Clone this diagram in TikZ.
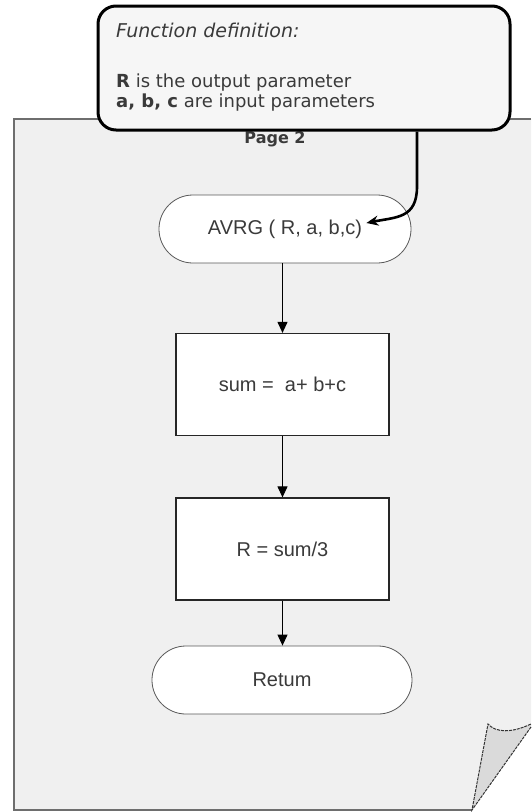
\documentclass[tikz,border=0pt]{standalone}
\usepackage{fontspec}
\setmainfont{Liberation Sans}
\newfontfamily\notefont{DejaVu Sans}
\newfontfamily\noteitfont{DejaVu Sans Oblique}
\usetikzlibrary{arrows.meta}
\definecolor{pagefill}{HTML}{F0F0F0}
\definecolor{pageedge}{HTML}{6E6E6E}
\definecolor{notefill}{HTML}{F6F6F6}
\definecolor{flapfill}{HTML}{DADADA}
\definecolor{inktext}{HTML}{3A3A3A}
\tikzset{
  terminal/.style={draw=black!65, line width=0.8pt, fill=white, rounded corners=33.9pt,
    inner sep=0pt, minimum height=68pt, font=\fontsize{20}{23}\selectfont, text=inktext},
  procbox/.style={draw=black!85, line width=1.2pt, fill=white, inner sep=0pt,
    minimum width=213pt, minimum height=102pt, font=\fontsize{20}{23}\selectfont, text=inktext},
  flow/.style={line width=1pt, -{Triangle[length=11pt,width=10pt]}},
  notebox/.style={draw=black, line width=3pt, fill=notefill, rounded corners=18pt,
    inner sep=0pt, minimum width=412pt, minimum height=124pt},
  notetext/.style={anchor=base west, inner sep=0pt, text=inktext,
    font=\notefont\fontsize{18}{21}\selectfont},
  callarrow/.style={line width=2.6pt, -{Stealth[length=12pt,width=10pt]}}
}
\begin{document}
\begin{tikzpicture}[x=1pt,y=-1pt]
\useasboundingbox (0,0) rectangle (531,812);

% sheet of paper with a curled bottom-right corner
\fill[pagefill] (14,119) -- (531,119) -- (531,727) -- (472,810) -- (14,810) -- cycle;
\draw[pageedge, line width=2pt] (531,119) -- (14,119) -- (14,810) -- (472,810);
\fill[flapfill] (472,810) -- (488,724) .. controls (496,733) and (512,733) .. (531,724)
  -- (531,727) -- cycle;
\draw[black!80, line width=1pt, dash pattern=on 3pt off 1pt]
  (531,727) -- (472,810) -- (488,724) .. controls (496,733) and (512,733) .. (531,724);

\node[anchor=base, inner sep=0pt, text=inktext, font=\notefont\bfseries\fontsize{16}{19}\selectfont]
  (pagelabel) at (275,143) {Page 2};

% flowchart
\node[terminal, minimum width=252pt] (avrg) at (285,229) {AVRG ( R, a, b,c)};
\node[procbox] (sum) at (282.5,384.5) {sum =\ \ a+ b+c};
\node[procbox] (avg) at (282.5,549) {R = sum/3};
\node[terminal, minimum width=260pt] (ret) at (282,680) {Retum};

\draw[flow] (avrg.south -| sum.north) -- (sum.north);
\draw[flow] (sum) -- (avg);
\draw[flow] (avg.south) -- (avg.south |- ret.north);

% definition note
\node[notebox] (def) at (304,68) {};
\node[notetext, font=\noteitfont\fontsize{19}{22}\selectfont] (defhead) at (116,37) {Function definition:};
\node[notetext] (defout) at (116,87) {\textbf{R} is the output parameter};
\node[notetext] (defin) at (116,107) {\textbf{a, b, c} are input parameters};

\draw[callarrow] ([xshift=113pt]def.south) -- ++(0,55)
  .. controls ++(0,32) and ++(30,-6) .. ([xshift=-45pt,yshift=6pt]avrg.east);
\end{tikzpicture}
\end{document}
